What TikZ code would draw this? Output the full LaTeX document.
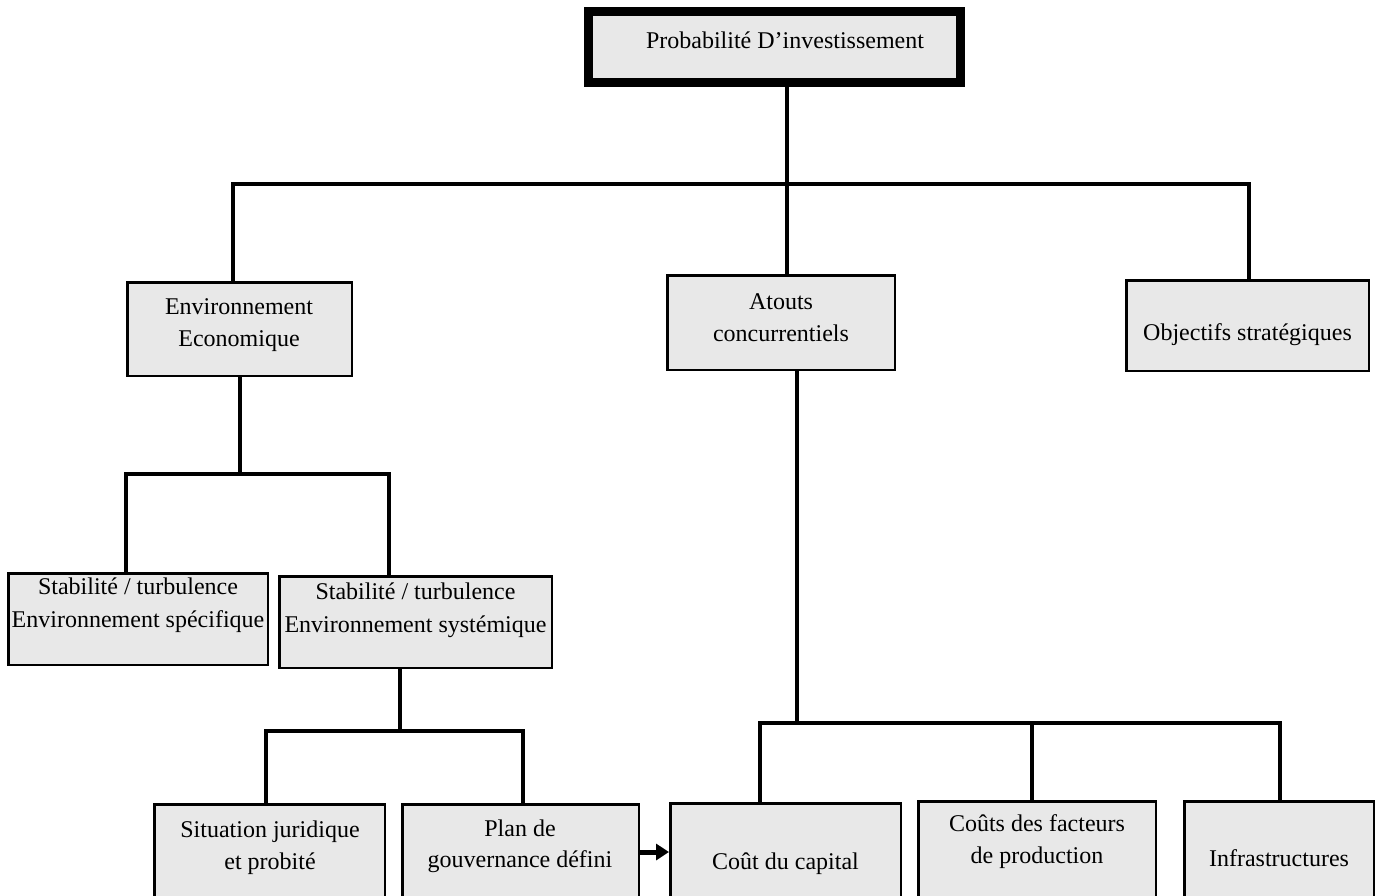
\documentclass[tikz,border=0pt]{standalone}
\usepackage{fontspec}
\setmainfont{Liberation Serif}
\usetikzlibrary{arrows.meta}
\definecolor{boxgray}{HTML}{E8E8E8}
\tikzset{
  box/.style={draw=black, fill=boxgray, line width=2.5pt, inner sep=0pt, rectangle},
  topbox/.style={box, line width=9pt},
  conn/.style={draw=black, line width=3.5pt, line join=miter},
  arr/.style={draw=black, line width=5pt, -{Triangle[length=13pt,width=16pt]}},
  txt/.style={anchor=base, inner sep=0pt, font=\fontsize{24}{30}\selectfont}
}
\begin{document}
\begin{tikzpicture}[x=1pt, y=-1pt]
\path[use as bounding box] (0,0) rectangle (1381,895);
\clip (0,0) rectangle (1381,895);

% boxes
\node[topbox, minimum width=372pt, minimum height=71pt] (top) at (774.5,47) {};
\node[box, minimum width=224.5pt, minimum height=93.5pt] (envE) at (239.5,329) {};
\node[box, minimum width=227.5pt, minimum height=94.5pt] (atouts) at (781,322.5) {};
\node[box, minimum width=242.5pt, minimum height=90.5pt] (obj) at (1247.5,325.5) {};
\node[box, minimum width=259.5pt, minimum height=91.5pt] (spec) at (138,619) {};
\node[box, minimum width=272.5pt, minimum height=91.5pt] (sys) at (415.5,622) {};
\node[box, minimum width=230.5pt, minimum height=104.5pt] (sit) at (269.5,856.5) {};
\node[box, minimum width=236.5pt, minimum height=104.5pt] (plan) at (520.5,856.5) {};
\node[box, minimum width=230.5pt, minimum height=105.5pt] (cout) at (785.5,856) {};
\node[box, minimum width=237.5pt, minimum height=107.5pt] (fact) at (1037,855) {};
\node[box, minimum width=189.5pt, minimum height=107.5pt] (infra) at (1279,855) {};

% texts
\node[txt] (top-t) at (785,48) {Probabilité D’investissement};
\node[txt] (envE-t1) at (239,314) {Environnement};
\node[txt] (envE-t2) at (239,346) {Economique};
\node[txt] (atouts-t1) at (781,309) {Atouts};
\node[txt] (atouts-t2) at (781,341) {concurrentiels};
\node[txt] (obj-t) at (1247.5,340) {Objectifs stratégiques};
\node[txt] (spec-t1) at (138,594) {Stabilité / turbulence};
\node[txt] (spec-t2) at (138,627) {Environnement spécifique};
\node[txt] (sys-t1) at (415.5,599) {Stabilité / turbulence};
\node[txt] (sys-t2) at (415.5,632) {Environnement systémique};
\node[txt] (sit-t1) at (270,837) {Situation juridique};
\node[txt] (sit-t2) at (270,869) {et probité};
\node[txt] (plan-t1) at (520,836) {Plan de};
\node[txt] (plan-t2) at (520,867) {gouvernance défini};
\node[txt] (cout-t) at (785.5,869) {Coût du capital};
\node[txt] (fact-t1) at (1037,831) {Coûts des facteurs};
\node[txt] (fact-t2) at (1037,863) {de production};
\node[txt] (infra-t) at (1279,866) {Infrastructures};

% junction coordinates
\coordinate (c1) at (787,184);
\coordinate (cL) at (233,184);
\coordinate (cR) at (1249,184);
\coordinate (e1) at (240,474);
\coordinate (eL) at (126,474);
\coordinate (eR) at (389,474);
\coordinate (s1) at (400,731);
\coordinate (sL) at (266,731);
\coordinate (sR) at (523,731);
\coordinate (a1) at (797,723);
\coordinate (aL) at (760,723);
\coordinate (aM) at (1032,723);
\coordinate (aR) at (1280,723);
\coordinate (ay) at (0,852);

% connectors
\draw[conn] (top.south -| c1) -- (atouts.north -| c1);
\draw[conn] (envE.north -| cL) -- (cL) -- (cR) -- (obj.north -| cR);

\draw[conn] (envE.south -| e1) -- (e1);
\draw[conn] (spec.north -| eL) -- (eL) -- (eR) -- (sys.north -| eR);

\draw[conn] (sys.south -| s1) -- (s1);
\draw[conn] (sit.north -| sL) -- (sL) -- (sR) -- (plan.north -| sR);

\draw[conn] (atouts.south -| a1) -- (a1);
\draw[conn] (cout.north -| aL) -- (aL) -- (aR) -- (infra.north -| aR);
\draw[conn] (aM) -- (fact.north -| aM);

\draw[arr] (plan.east |- ay) -- (cout.west |- ay);
\end{tikzpicture}
\end{document}
